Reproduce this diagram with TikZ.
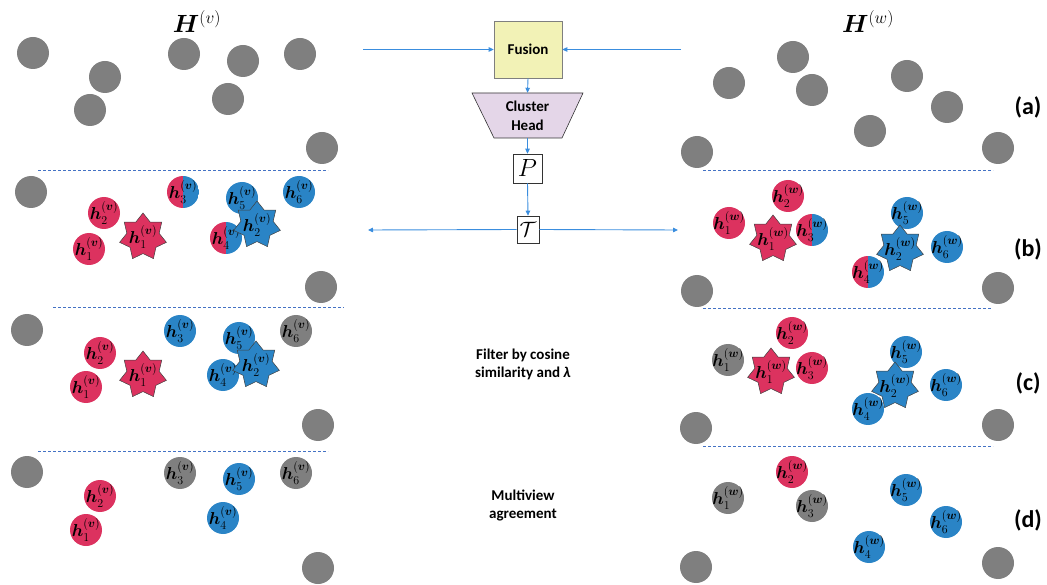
\documentclass[tikz,border=0pt]{standalone}
\usepackage[no-math]{fontspec}
\setmainfont{Carlito}
\usepackage{amsmath,bm}
\usetikzlibrary{shapes.geometric,arrows.meta}

\definecolor{cred}{HTML}{DC325F}
\definecolor{cblue}{HTML}{2A84C6}
\definecolor{cgray}{HTML}{7F7F7F}
\definecolor{arrblue}{HTML}{3A8DDE}
\definecolor{dashblue}{HTML}{4472C4}
\definecolor{fusfill}{HTML}{F2F2B6}
\definecolor{headfill}{HTML}{E4D6E8}

\newcommand{\hlab}[2]{$\bm{h}_{#1}^{(\bm{#2})}$}

\tikzset{
  lab/.style={font=\fontsize{18.5}{18.5}\selectfont, inner sep=0pt, text=black},
  lbl/.style={label={[lab]center:#1}},
  dot/.style={circle, minimum size=32pt, inner sep=0pt},
  gdot/.style={dot, fill=cgray},
  rdot/.style={dot, fill=cred},
  bdot/.style={dot, fill=cblue},
  hdot/.style={dot, path picture={
      \fill[cred] (path picture bounding box.south west) rectangle (path picture bounding box.north);
      \fill[cblue] (path picture bounding box.south) rectangle (path picture bounding box.north east);}},
  sevenstar/.style={star, star points=7, star point ratio=1.45, minimum size=48pt,
    inner sep=0pt, draw=black!75, line width=0.5pt},
  rstar/.style={sevenstar, fill=cred},
  bstar/.style={sevenstar, fill=cblue},
  sep/.style={dashblue, line width=0.9pt, dash pattern=on 3pt off 2pt},
  arr/.style={arrblue, line width=0.9pt, -{Triangle[length=5pt,width=4.5pt]}},
  mbox/.style={draw=black!80, fill=white, line width=0.6pt, inner sep=0pt},
  panel/.style={font=\fontsize{24}{24}\selectfont\bfseries},
  note/.style={font=\fontsize{15}{18}\selectfont\bfseries, align=center},
  head/.style={font=\fontsize{24}{24}\selectfont}
}

\begin{document}
\begin{tikzpicture}[x=1pt,y=-1pt]
\useasboundingbox (0,0) rectangle (1047,585);

% ---------- headings ----------
\node[head] (Hv) at (197,22) {$\bm{H}^{(v)}$};
\node[head] (Hw) at (868,22) {$\bm{H}^{(w)}$};

% ---------- separators ----------
\draw[sep] (38,170) -- (328,170);
\draw[sep] (53,307) -- (344,307);
\draw[sep] (38,451) -- (328,451);
\draw[sep] (703,170) -- (993,170);
\draw[sep] (703,308) -- (992,308);
\draw[sep] (703,446) -- (993,446);

% ---------- (a): unlabelled embeddings ----------
\foreach \x/\y [count=\i] in {33/53,105/77,90/110,184/54,243/61,228/99,300/54,322/148}
  \node[gdot] (aL\i) at (\x,\y) {};
\foreach \x/\y [count=\i] in {729/83,793/57,812/90,907/76,947/107,870/131,697/152,998/148}
  \node[gdot] (aR\i) at (\x,\y) {};

% ---------- (b): prototype assignment ----------
\node[gdot] (bLg1) at (31,192) {};
\node[gdot] (bLg2) at (321,287) {};
\node[rdot, lbl={\hlab{2}{v}}] (bL2) at (104,213) {};
\node[rdot, lbl={\hlab{1}{v}}] (bL1) at (89,249) {};
\node[hdot, lbl={\hlab{3}{v}}] (bL3) at (183,192) {};
\node[bdot, lbl={\hlab{5}{v}}] (bL5) at (242,198) {};
\node[bdot, lbl={\hlab{6}{v}}] (bL6) at (299,192) {};
\node[hdot, lbl={\hlab{4}{v}}] (bL4) at (226,238) {};
\node[rstar, lbl={\hlab{1}{v}}] (bLs1) at (143,237) {};
\node[bstar, lbl={\hlab{2}{v}}] (bLs2) at (257,225) {};

\node[gdot] (bRg1) at (697,291) {};
\node[gdot] (bRg2) at (998,288) {};
\node[rdot, lbl={\hlab{2}{w}}] (bR2) at (788,196) {};
\node[rdot, lbl={\hlab{1}{w}}] (bR1) at (729,223) {};
\node[hdot, lbl={\hlab{3}{w}}] (bR3) at (812,230) {};
\node[bdot, lbl={\hlab{5}{w}}] (bR5) at (907,213) {};
\node[bdot, lbl={\hlab{6}{w}}] (bR6) at (947,247) {};
\node[hdot, lbl={\hlab{4}{w}}] (bR4) at (868,272) {};
\node[rstar, lbl={\hlab{1}{w}}] (bRs1) at (773,239) {};
\node[bstar, lbl={\hlab{2}{w}}] (bRs2) at (900,249) {};

% ---------- (c): filtered by similarity ----------
\node[gdot] (cLg1) at (27,330) {};
\node[gdot] (cLg2) at (318,425) {};
\node[rdot, lbl={\hlab{2}{v}}] (cL2) at (100,353) {};
\node[rdot, lbl={\hlab{1}{v}}] (cL1) at (86,387) {};
\node[bdot, lbl={\hlab{3}{v}}] (cL3) at (180,331) {};
\node[bdot, lbl={\hlab{5}{v}}] (cL5) at (239,338) {};
\node[gdot, lbl={\hlab{6}{v}}] (cL6) at (296,331) {};
\node[bdot, lbl={\hlab{4}{v}}] (cL4) at (223,375) {};
\node[rstar, lbl={\hlab{1}{v}}] (cLs1) at (143,375) {};
\node[bstar, lbl={\hlab{2}{v}}] (cLs2) at (256,365) {};

\node[gdot] (cRg1) at (696,428) {};
\node[gdot] (cRg2) at (998,425) {};
\node[rdot, lbl={\hlab{2}{w}}] (cR2) at (792,333) {};
\node[gdot, lbl={\hlab{1}{w}}] (cR1) at (728,360) {};
\node[rdot, lbl={\hlab{3}{w}}] (cR3) at (812,368) {};
\node[bdot, lbl={\hlab{5}{w}}] (cR5) at (906,352) {};
\node[bdot, lbl={\hlab{6}{w}}] (cR6) at (946,385) {};
\node[bdot, lbl={\hlab{4}{w}}] (cR4) at (868,409) {};
\node[rstar, lbl={\hlab{1}{w}}] (cRs1) at (771,372) {};
\node[bstar, lbl={\hlab{2}{w}}] (cRs2) at (895,386) {};

% ---------- (d): cross-view agreement ----------
\node[gdot] (dLg1) at (27,472) {};
\node[gdot] (dLg2) at (318,568) {};
\node[rdot, lbl={\hlab{2}{v}}] (dL2) at (100,496) {};
\node[rdot, lbl={\hlab{1}{v}}] (dL1) at (86,530) {};
\node[gdot, lbl={\hlab{3}{v}}] (dL3) at (180,473) {};
\node[bdot, lbl={\hlab{5}{v}}] (dL5) at (239,479) {};
\node[gdot, lbl={\hlab{6}{v}}] (dL6) at (296,473) {};
\node[bdot, lbl={\hlab{4}{v}}] (dL4) at (223,518) {};

\node[gdot] (dRg1) at (696,567) {};
\node[gdot] (dRg2) at (998,563) {};
\node[rdot, lbl={\hlab{2}{w}}] (dR2) at (792,472) {};
\node[gdot, lbl={\hlab{1}{w}}] (dR1) at (728,498) {};
\node[gdot, lbl={\hlab{3}{w}}] (dR3) at (812,506) {};
\node[bdot, lbl={\hlab{5}{w}}] (dR5) at (906,490) {};
\node[bdot, lbl={\hlab{6}{w}}] (dR6) at (946,522) {};
\node[bdot, lbl={\hlab{4}{w}}] (dR4) at (869,547) {};

% ---------- panel letters ----------
\node[panel] (la) at (1028,107) {(a)};
\node[panel] (lb) at (1028,249) {(b)};
\node[panel] (lc) at (1028,383) {(c)};
\node[panel] (ld) at (1028,520) {(d)};

% ---------- central pipeline ----------
\node[draw=cgray, fill=fusfill, line width=0.6pt, minimum width=68pt, minimum height=57pt,
      font=\fontsize{15}{15}\selectfont\bfseries] (fus) at (528,49.5) {Fusion};
\coordinate (chtl) at (472,93);
\coordinate (chtr) at (583,93);
\coordinate (chbr) at (562,138);
\coordinate (chbl) at (494,138);
\filldraw[fill=headfill, draw=black!80, line width=0.6pt] (chtl) -- (chtr) -- (chbr) -- (chbl) -- cycle;
\node[minimum width=111pt, minimum height=45pt, inner sep=0pt, align=center,
      font=\fontsize{15}{19}\selectfont\bfseries] (ch) at (527.5,115.5) {Cluster\\Head};
\node[mbox, minimum size=29pt, font=\fontsize{28}{28}\selectfont] (P) at (527.5,168.5) {$P$};
\node[mbox, minimum width=22pt, minimum height=27pt, font=\fontsize{22}{22}\selectfont] (T) at (528,229.5) {$\mathcal{T}$};

\coordinate (inL) at (363,49.5);
\coordinate (inR) at (681,49.5);
\coordinate (outL) at (368,230);
\coordinate (outR) at (678,230);

\draw[arr] (inL) -- (fus.west);
\draw[arr] (inR) -- (fus.east);
\draw[arr] (fus.south) -- (ch.north);
\draw[arr] (ch.south) -- (P.north);
\draw[arr] (P.south) -- (T.north);
\draw[arr] (T.west) -- (outL);
\draw[arr] (T.east) -- (outR);

% ---------- step notes ----------
\node[note] (filt) at (523,364) {Filter by cosine\\similarity and \textit{λ}};
\node[note] (agree) at (523,505) {Multiview\\agreement};
\end{tikzpicture}
\end{document}
